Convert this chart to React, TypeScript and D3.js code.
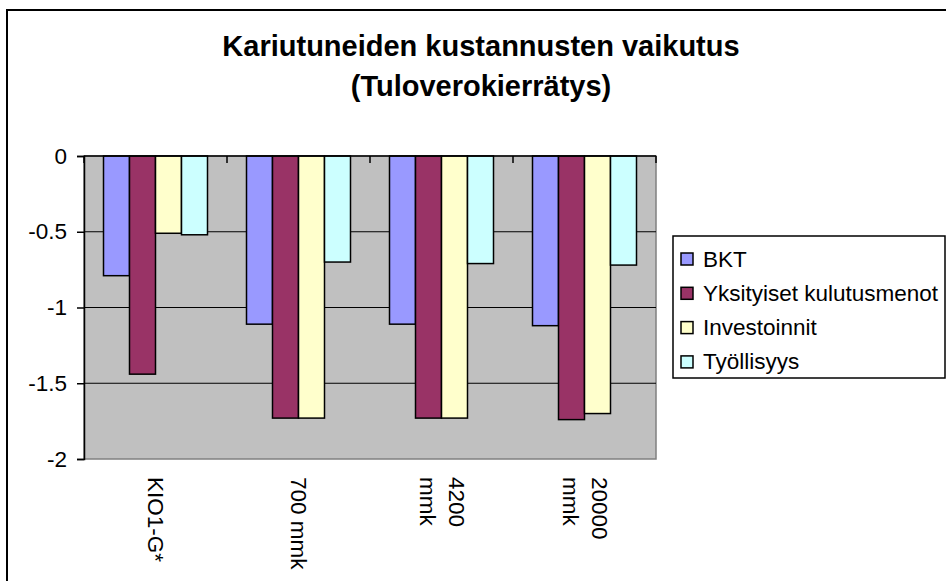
import React, { useEffect, useRef } from 'react';
import * as d3 from 'd3';

const categories = ['KIO1-G*', '700 mmk', '4200 mmk', '20000 mmk'];
// how each category label is wrapped under the axis
const categoryLines = [['KIO1-G*'], ['700 mmk'], ['4200', 'mmk'], ['20000', 'mmk']];
const seriesNames = ['BKT', 'Yksityiset kulutusmenot', 'Investoinnit', 'Työllisyys'];
const bkt = [-0.79, -1.11, -1.11, -1.12];
const kulutus = [-1.44, -1.73, -1.73, -1.74];
const investoinnit = [-0.51, -1.73, -1.73, -1.70];
const tyollisyys = [-0.52, -0.70, -0.71, -0.72];
const yTicks = [0, -0.5, -1, -1.5, -2];
const colors = ['#9999FF', '#993366', '#FFFFCC', '#CCFFFF'];

const FONT = '"Liberation Sans", Arial, sans-serif';

const App = () => {
  const ref = useRef(null);

  useEffect(() => {
    const allSeries = [bkt, kulutus, investoinnit, tyollisyys];
    const plot = { left: 84, right: 656, top: 156, bottom: 459 };

    d3.select(ref.current).selectAll('*').remove();

    const svg = d3
      .select(ref.current)
      .append('svg')
      .attr('width', 946)
      .attr('height', 581)
      .style('position', 'absolute')
      .style('left', '0px')
      .style('top', '0px')
      .style('font-family', FONT);

    // chart frame
    svg.append('rect')
      .attr('x', 7)
      .attr('y', 10)
      .attr('width', 980)
      .attr('height', 620)
      .attr('fill', '#fff')
      .attr('stroke', '#000')
      .attr('stroke-width', 2);

    // title
    const title = svg.append('text')
      .attr('text-anchor', 'middle')
      .attr('font-size', 29)
      .attr('font-weight', 'bold')
      .attr('fill', '#000');
    title.append('tspan').attr('x', 481).attr('y', 56).text('Kariutuneiden kustannusten vaikutus');
    title.append('tspan').attr('x', 481).attr('y', 96).text('(Tuloverokierrätys)');

    const x0 = d3.scaleBand()
      .domain(categories)
      .range([plot.left, plot.right]);

    const x1 = d3.scaleBand()
      .domain(seriesNames)
      .range([0, x0.bandwidth()])
      .paddingInner(0)
      .paddingOuter(0.75);

    const y = d3.scaleLinear()
      .domain([-2, 0])
      .range([plot.bottom, plot.top]);

    // plot area
    svg.append('rect')
      .attr('x', plot.left)
      .attr('y', plot.top)
      .attr('width', plot.right - plot.left)
      .attr('height', plot.bottom - plot.top)
      .attr('fill', '#C0C0C0')
      .attr('stroke', '#808080')
      .attr('stroke-width', 1.5);

    // gridlines
    svg.append('g')
      .selectAll('line')
      .data(yTicks.filter(t => t !== 0 && t !== -2))
      .enter()
      .append('line')
      .attr('x1', plot.left)
      .attr('x2', plot.right)
      .attr('y1', d => y(d))
      .attr('y2', d => y(d))
      .attr('stroke', '#000')
      .attr('stroke-width', 1);

    // bars
    const groups = svg.append('g')
      .selectAll('g')
      .data(categories)
      .enter()
      .append('g')
      .attr('transform', d => `translate(${x0(d)},0)`);

    groups.selectAll('rect')
      .data((d, i) => seriesNames.map((s, j) => ({ s, j, v: allSeries[j][i] })))
      .enter()
      .append('rect')
      .attr('x', d => x1(d.s))
      .attr('y', y(0))
      .attr('width', x1.bandwidth())
      .attr('height', d => y(d.v) - y(0))
      .attr('fill', d => colors[d.j])
      .attr('stroke', '#000')
      .attr('stroke-width', 1.5);

    // y axis
    const yAxis = svg.append('g')
      .attr('transform', `translate(${plot.left},0)`)
      .call(
        d3.axisLeft(y)
          .tickValues(yTicks)
          .tickSize(7)
          .tickPadding(10)
          .tickFormat(d => String(d))
      );
    yAxis.select('.domain').attr('stroke', '#000').attr('stroke-width', 1.5);
    yAxis.selectAll('.tick line').attr('stroke', '#000').attr('stroke-width', 1.5);
    yAxis.selectAll('.tick text')
      .attr('font-size', 22.5)
      .attr('font-family', FONT)
      .attr('fill', '#000');

    // category axis at zero, ticks pointing into the plot
    const boundaries = categories.map(c => x0(c)).concat([plot.right]);
    svg.append('line')
      .attr('x1', plot.left)
      .attr('x2', plot.right)
      .attr('y1', y(0))
      .attr('y2', y(0))
      .attr('stroke', '#000')
      .attr('stroke-width', 1.5);
    svg.append('g')
      .selectAll('line')
      .data(boundaries)
      .enter()
      .append('line')
      .attr('x1', d => d)
      .attr('x2', d => d)
      .attr('y1', y(0))
      .attr('y2', y(0) + 7)
      .attr('stroke', '#000')
      .attr('stroke-width', 1.5);

    // rotated category labels
    const lh = 29;
    const labels = svg.append('g')
      .selectAll('text')
      .data(categories)
      .enter()
      .append('text')
      .attr('transform', d => `translate(${x0(d) + x0.bandwidth() / 2},477) rotate(90)`)
      .attr('font-size', 22.5)
      .attr('fill', '#000');
    labels.each(function (d, i) {
      const lines = categoryLines[i];
      d3.select(this)
        .selectAll('tspan')
        .data(lines)
        .enter()
        .append('tspan')
        .attr('x', 0)
        .attr('y', (l, k) => (k - (lines.length - 1) / 2) * lh)
        .attr('dominant-baseline', 'central')
        .text(l => l);
    });

    // legend
    const legend = svg.append('g');
    legend.append('rect')
      .attr('x', 673)
      .attr('y', 236)
      .attr('width', 272)
      .attr('height', 142)
      .attr('fill', '#fff')
      .attr('stroke', '#000')
      .attr('stroke-width', 1.5);

    const items = legend.selectAll('g')
      .data(seriesNames)
      .enter()
      .append('g')
      .attr('transform', (d, i) => `translate(681,${259 + i * 34.3})`);
    items.append('rect')
      .attr('x', 0)
      .attr('y', -6)
      .attr('width', 12)
      .attr('height', 12)
      .attr('fill', (d, i) => colors[i])
      .attr('stroke', '#000')
      .attr('stroke-width', 1.5);
    items.append('text')
      .attr('x', 22)
      .attr('y', 0)
      .attr('dominant-baseline', 'central')
      .attr('font-size', 22.5)
      .attr('fill', '#000')
      .text(d => d);
  }, []);

  return <div ref={ref}></div>;
};

export default App;
